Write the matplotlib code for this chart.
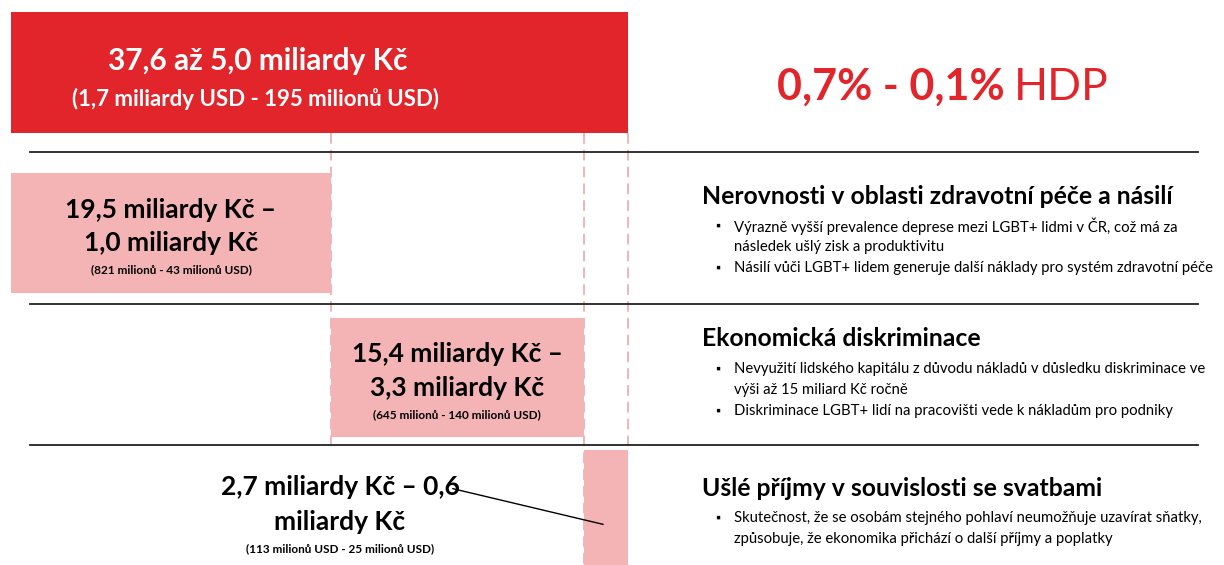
import matplotlib.pyplot as plt

# hodnoty v miliardach Kc (horni / dolni odhad)
total_high = 37.6
total_low = 5.0
total_usd = "(1,7 miliardy USD - 195 milionů USD)"
gdp_high = "0,7%"
gdp_low = "0,1%"

segments = ["Nerovnosti v oblasti zdravotní péče a násilí",
            "Ekonomická diskriminace",
            "Ušlé příjmy v souvislosti se svatbami"]
high_czk = [19.5, 15.4, 2.7]
low_czk = [1.0, 3.3, 0.6]
usd_labels = ["(821 milionů - 43 milionů USD)",
              "(645 milionů - 140 milionů USD)",
              "(113 milionů USD - 25 milionů USD)"]
bullets = [
    ["Výrazně vyšší prevalence deprese mezi LGBT+ lidmi v ČR, což má za\nnásledek ušlý zisk a produktivitu",
     "Násilí vůči LGBT+ lidem generuje další náklady pro systém zdravotní péče"],
    ["Nevyužití lidského kapitálu z důvodu nákladů v důsledku diskriminace ve\nvýši až 15 miliard Kč ročně",
     "Diskriminace LGBT+ lidí na pracovišti vede k nákladům pro podniky"],
    ["Skutečnost, že se osobám stejného pohlaví neumožňuje uzavírat sňatky,\nzpůsobuje, že ekonomika přichází o další příjmy a poplatky"],
]


def fmt(v):
    return ("%.1f" % v).replace(".", ",")


RED = "#E2252B"
PINK = "#F4B4B5"
DASH = "#E9A3A5"
FONT = ["Lato", "DejaVu Sans"]

W, H = 1224, 565
x0 = 11
k = (628 - x0) / total_high  # px na miliardu


def px(x):
    return (x - x0) / k


fig = plt.figure(figsize=(W / 100, H / 100), dpi=100)
ax = fig.add_axes([0, 0, 1, 1])
ax.set_xlim(px(0), px(W))
ax.set_ylim(H, 0)
ax.axis("off")

# celkovy sloupec
ax.barh(72.5, total_high, left=0, height=121, color=RED)
ax.text(px(258), 61, fmt(total_high) + " až " + fmt(total_low) + " miliardy Kč",
        color="white", fontsize=21.5, fontweight="bold", family=FONT, ha="center", va="center")
ax.text(px(256), 99, total_usd, color="white", fontsize=16, fontweight="bold",
        family=FONT, ha="center", va="center")
ax.text(px(1005), 87, gdp_high + " - " + gdp_low, color=RED, fontsize=31,
        fontweight="bold", family=FONT, ha="right", va="center")
ax.text(px(1014), 87, "HDP", color=RED, fontsize=32, family=FONT, ha="left", va="center")

row_y = [233, 377.5, 507.5]
row_h = [120, 119, 115]
line_y = [152, 304, 445]
head_y = [196, 339, 488]

starts = [sum(high_czk[:i]) for i in range(len(high_czk))]
ends = [s + v for s, v in zip(starts, high_czk)]

# prerusovane cary na hranach sloupcu
dash_bottom = [445, 565, 450]
for e, yb in zip(ends, dash_bottom):
    ax.plot([e, e], [133, yb], color=DASH, lw=1.1, ls=(0, (7, 4)), zorder=1)

for y in line_y:
    ax.plot([px(30), px(1198)], [y, y], color="#222222", lw=1.3)

for i in range(len(high_czk)):
    ax.barh(row_y[i], high_czk[i], left=starts[i], height=row_h[i], color=PINK, zorder=2)

# popisky segmentu
for i in range(2):
    cx = starts[i] + high_czk[i] / 2
    ax.text(cx, row_y[i] - 23, fmt(high_czk[i]) + " miliardy Kč –", fontsize=19,
            fontweight="bold", family=FONT, ha="center", va="center", zorder=3)
    ax.text(cx, row_y[i] + 10, fmt(low_czk[i]) + " miliardy Kč", fontsize=19,
            fontweight="bold", family=FONT, ha="center", va="center", zorder=3)
    ax.text(cx, row_y[i] + 37, usd_labels[i], fontsize=8.5, fontweight="bold",
            family=FONT, ha="center", va="center", zorder=3)

lx = px(340)
ax.text(lx, 487, fmt(high_czk[2]) + " miliardy Kč – " + fmt(low_czk[2]), fontsize=19,
        fontweight="bold", family=FONT, ha="center", va="center", zorder=3)
ax.text(lx, 522, "miliardy Kč", fontsize=19, fontweight="bold", family=FONT,
        ha="center", va="center", zorder=3)
ax.text(lx, 549, usd_labels[2], fontsize=8.5, fontweight="bold", family=FONT,
        ha="center", va="center", zorder=3)
ax.annotate("", xy=(starts[2] + high_czk[2] * 0.5, 525), xytext=(px(450), 488),
            arrowprops=dict(arrowstyle="-", color="black", lw=1), zorder=4)

# prava cast s popisem
for i, name in enumerate(segments):
    ax.text(px(702), head_y[i], name, fontsize=17.8, fontweight="bold", family=FONT,
            ha="left", va="center")
    y = head_y[i] + 30
    for b in bullets[i]:
        ax.text(px(715), y, "▪", fontsize=9, family=FONT, ha="left", va="center")
        lines = b.split("\n")
        for j, ln in enumerate(lines):
            ax.text(px(734), y + j * 21, ln, fontsize=10.7, family=FONT,
                    ha="left", va="center")
        y += 21 * len(lines)

fig.savefig("out.png", dpi=100, facecolor="white")
